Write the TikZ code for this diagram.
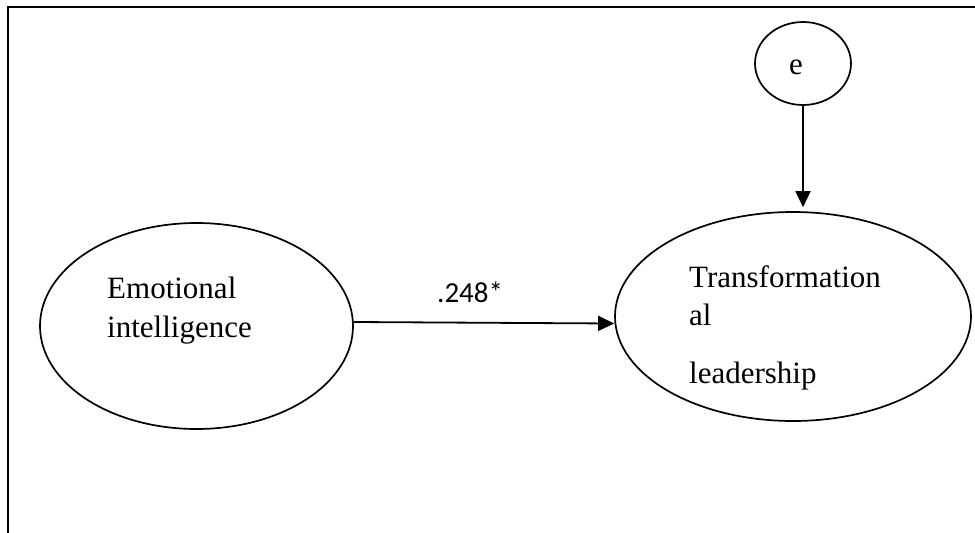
\documentclass[tikz,border=0pt]{standalone}
\usepackage{fontspec}
\setmainfont{Liberation Serif}
\newfontfamily\labelfont{Carlito}
\usetikzlibrary{shapes.geometric,arrows.meta}
\begin{document}
\begin{tikzpicture}[x=1pt,y=-1pt,
  latent/.style={ellipse,draw,line width=1.7pt,inner sep=0pt},
  txt/.style={anchor=base west,inner sep=0pt,font=\fontsize{31}{38}\selectfont},
  lbl/.style={anchor=base west,inner sep=0pt,font=\labelfont\fontsize{29}{34}\selectfont},
  path/.style={line width=1.8pt,-{Triangle[length=16pt,width=15pt]}},
  frame/.style={line width=2.4pt}]
\useasboundingbox (0,0) rectangle (975,533);
% frame (top and left edges only)
\coordinate (fl) at (8,533);
\coordinate (fc) at (8,7);
\coordinate (fr) at (975,7);
\draw[frame] (fl) -- (fc) -- (fr);
% latent variables
\node[latent,minimum width=313pt,minimum height=206pt] (ei) at (196.5,326) {};
\node[latent,minimum width=356pt,minimum height=209pt] (tl) at (793,316.5) {};
\node[latent,minimum width=96pt,minimum height=83pt] (e) at (803,63.5) {};
% texts
\node[txt] (ei1) at (107,298) {Emotional};
\node[txt] (ei2) at (107,337) {intelligence};
\node[txt] (tl1) at (689,287) {Transformation};
\node[txt] (tl2) at (689,325) {al};
\node[txt] (tl3) at (689,383) {leadership};
\node[txt] (et) at (789,74) {e};
\node[lbl] (coef) at (437,302) {.248*};
% paths
\draw[path] ([yshift=4pt]ei.east) -- ([yshift=-7pt]tl.west);
\draw[path] (e.south) -- ([yshift=4pt]e.south |- tl.north);
\end{tikzpicture}
\end{document}
